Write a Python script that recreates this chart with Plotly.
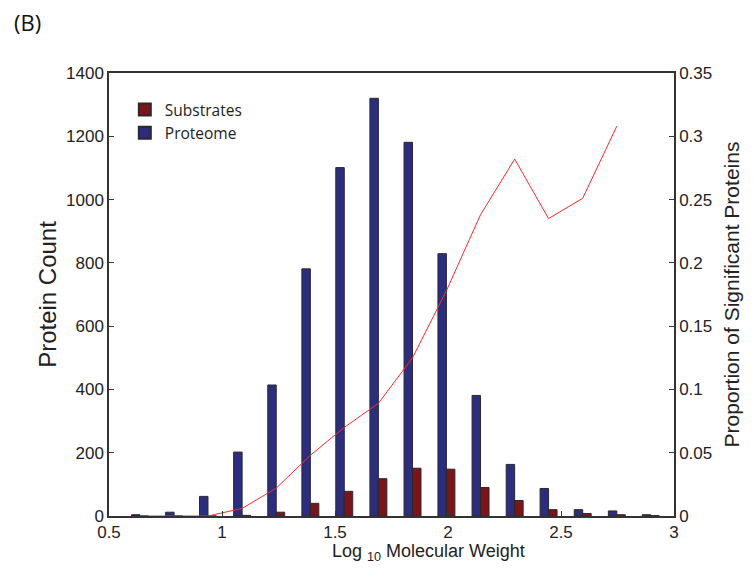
import plotly.graph_objects as go

# Histogram bin centres (log10 molecular weight)
bin_centers = [0.637, 0.788, 0.938, 1.089, 1.240, 1.391, 1.541, 1.692,
               1.843, 1.993, 2.144, 2.295, 2.445, 2.596, 2.747, 2.897]

# Protein counts per bin
proteome_counts = [4, 12, 62, 202, 414, 781, 1101, 1320,
                   1181, 829, 381, 163, 87, 20, 16, 4]
substrate_counts = [0, 0, 0, 2, 12, 40, 78, 118,
                    151, 148, 90, 49, 20, 8, 4, 1]

# Proportion of significant proteins (first 15 bins)
proportion = [0.0, 0.0, 0.0, 0.006, 0.022, 0.048, 0.070, 0.089,
              0.125, 0.178, 0.238, 0.282, 0.235, 0.251, 0.308]

x_ticks = [0.5, 1, 1.5, 2, 2.5, 3]
y_ticks = [0, 200, 400, 600, 800, 1000, 1200, 1400]
y2_ticks = [0, 0.05, 0.1, 0.15, 0.2, 0.25, 0.3, 0.35]

AX_FONT = "Liberation Sans, Arial, sans-serif"
LEG_FONT = "Open Sans, sans-serif"

fig = go.Figure()

fig.add_trace(go.Bar(
    x=bin_centers, y=proteome_counts, name="Proteome",
    marker=dict(color="#2b2e80", line=dict(color="#2a2a2a", width=1)),
))
fig.add_trace(go.Bar(
    x=bin_centers, y=substrate_counts, name="Substrates",
    marker=dict(color="#7e1418", line=dict(color="#2a2a2a", width=1)),
))
fig.add_trace(go.Scatter(
    x=bin_centers[:len(proportion)], y=proportion, yaxis="y2",
    mode="lines", line=dict(color="#ff2a2a", width=1), showlegend=False,
))

axis_common = dict(
    showgrid=False, zeroline=False, showline=True, linecolor="#333333",
    linewidth=1.5, ticks="inside", ticklen=5, tickcolor="#333333",
    tickfont=dict(family=AX_FONT, size=17, color="#222222"),
)

fig.update_layout(
    width=754, height=573,
    margin=dict(l=109, r=80, t=73, b=57),
    paper_bgcolor="white", plot_bgcolor="white",
    barmode="group", bargap=0.5, bargroupgap=0.0,
    xaxis=dict(range=[0.5, 3], tickvals=x_ticks,
               ticktext=["0.5", "1", "1.5", "2", "2.5", "3"],
               mirror=True, **axis_common),
    yaxis=dict(range=[0, 1400], tickvals=y_ticks, **axis_common,
               title=dict(text="Protein Count",
                          font=dict(family=AX_FONT, size=24, color="#222222"),
                          standoff=3)),
    yaxis2=dict(range=[0, 0.35], tickvals=y2_ticks,
                ticktext=["0", "0.05", "0.1", "0.15", "0.2", "0.25", "0.3", "0.35"],
                overlaying="y", side="right", **axis_common,
                title=dict(text="Proportion of Significant Proteins",
                           font=dict(family=AX_FONT, size=21, color="#222222"),
                           standoff=13)),
    legend=dict(x=0.028, y=0.955, xanchor="left", yanchor="top",
                traceorder="reversed", bgcolor="rgba(0,0,0,0)",
                font=dict(family=LEG_FONT, size=15.5, color="#222222"),
                itemsizing="constant"),
    showlegend=True,
)

fig.add_annotation(
    text="Log <sub>10</sub> Molecular Weight", xref="paper", yref="paper",
    x=0.566, y=-0.052, xanchor="center", yanchor="top", showarrow=False,
    font=dict(family=AX_FONT, size=18, color="#222222"),
)
fig.add_annotation(
    text="(B)", xref="paper", yref="paper",
    x=-0.172, y=1.115, xanchor="left", yanchor="middle", showarrow=False,
    font=dict(family=LEG_FONT, size=22, color="#111111"),
)

fig.write_html("out.html")
